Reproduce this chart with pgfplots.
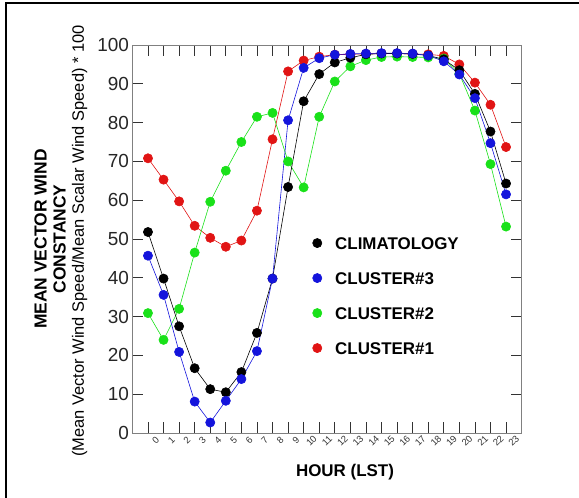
\documentclass[border=0pt]{standalone}
\usepackage{fontspec}
\setmainfont{Liberation Sans}
\usepackage{pgfplots}
\pgfplotsset{compat=1.18}
\definecolor{cblue}{RGB}{20,20,220}
\definecolor{cgreen}{RGB}{25,225,25}
\definecolor{cred}{RGB}{225,20,20}
\begin{document}
\begin{tikzpicture}[x=1bp,y=1bp]
\path[use as bounding box] (0,0) rectangle (579,-498);
\draw[line width=2.3bp] (6,-498) -- (6,-3) -- (579,-3);
\begin{axis}[
  at={(132.4bp,-433bp)}, anchor=south west,
  scale only axis, width=389.2bp, height=388bp,
  xmin=-1, xmax=24, ymin=0, ymax=100,
  xtick={0,...,23}, ytick={0,10,...,100},
  tick align=inside, xtick pos=both, ytick pos=both,
  major tick length=11bp,
  axis line style={black!50, line width=0.9bp},
  every tick/.style={black!80, line width=0.8bp},
  /pgf/number format/assume math mode=true,
  yticklabel style={font=\fontsize{19}{22}\selectfont, black!85},
  xticklabel style={font=\fontsize{9.5}{11}\selectfont, black!80, rotate=45, anchor=center, inner sep=0pt, yshift=-11bp},
  every axis plot/.append style={line width=0.6bp, mark=*, mark size=4.6bp},
  legend image code/.code={\fill[#1] (0bp,0bp) circle (4.6bp);},
  legend style={draw=none, fill=none, inner sep=0pt, outer sep=0pt,
    at={(axis cs:10.56,50.5)}, anchor=north west, row sep=23bp, column sep=13bp,
    nodes={inner sep=0pt, text height=12bp, text depth=0bp, font=\fontsize{17}{20}\selectfont\bfseries}},
  legend cell align=left,
]
\addplot[cred, mark options={fill=cred, draw=cred}, forget plot] coordinates {
(0,70.8)(1,65.3)(2,59.7)(3,53.4)(4,50.3)(5,48.0)(6,49.6)(7,57.3)(8,75.7)(9,93.2)(10,96.0)(11,97.0)
(12,97.5)(13,97.6)(14,97.7)(15,97.8)(16,97.8)(17,97.7)(18,97.6)(19,97.2)(20,95.0)(21,90.3)(22,84.6)(23,73.7)};
\addplot[cgreen, mark options={fill=cgreen, draw=cgreen}, forget plot] coordinates {
(0,30.9)(1,24.0)(2,32.0)(3,46.5)(4,59.6)(5,67.6)(6,75.0)(7,81.5)(8,82.5)(9,70.0)(10,63.3)(11,81.5)
(12,90.6)(13,94.5)(14,96.1)(15,96.9)(16,97.0)(17,96.9)(18,96.8)(19,96.5)(20,92.6)(21,83.1)(22,69.3)(23,53.2)};
\addplot[black, mark options={fill=black, draw=black}, forget plot] coordinates {
(0,51.8)(1,39.8)(2,27.5)(3,16.7)(4,11.3)(5,10.5)(6,15.7)(7,25.8)(8,39.8)(9,63.4)(10,85.5)(11,92.5)
(12,95.5)(13,96.7)(14,97.6)(15,97.8)(16,97.8)(17,97.7)(18,97.3)(19,96.3)(20,93.5)(21,87.4)(22,77.7)(23,64.3)};
\addplot[cblue, mark options={fill=cblue, draw=cblue}, forget plot] coordinates {
(0,45.7)(1,35.6)(2,20.9)(3,8.1)(4,2.7)(5,8.3)(6,13.9)(7,21.1)(8,39.8)(9,80.6)(10,94.1)(11,96.6)
(12,97.5)(13,97.7)(14,97.8)(15,97.9)(16,97.9)(17,97.8)(18,97.3)(19,95.8)(20,92.4)(21,86.3)(22,74.7)(23,61.5)};
\addlegendimage{black}
\addlegendentry{CLIMATOLOGY}
\addlegendimage{cblue}
\addlegendentry{CLUSTER\#3}
\addlegendimage{cgreen}
\addlegendentry{CLUSTER\#2}
\addlegendimage{cred}
\addlegendentry{CLUSTER\#1}
\end{axis}
\node[rotate=90, font=\fontsize{17.5}{20}\selectfont\bfseries] at (40.5,-239) {MEAN VECTOR WIND};
\node[rotate=90, font=\fontsize{17.5}{20}\selectfont\bfseries] at (59.5,-239) {CONSTANCY};
\node[rotate=90, font=\fontsize{16.5}{19}\selectfont] at (79.5,-241) {(Mean Vector Wind Speed/Mean Scalar Wind Speed) * 100};
\node[font=\fontsize{17}{20}\selectfont\bfseries] at (345,-472) {HOUR (LST)};
\end{tikzpicture}
\end{document}
